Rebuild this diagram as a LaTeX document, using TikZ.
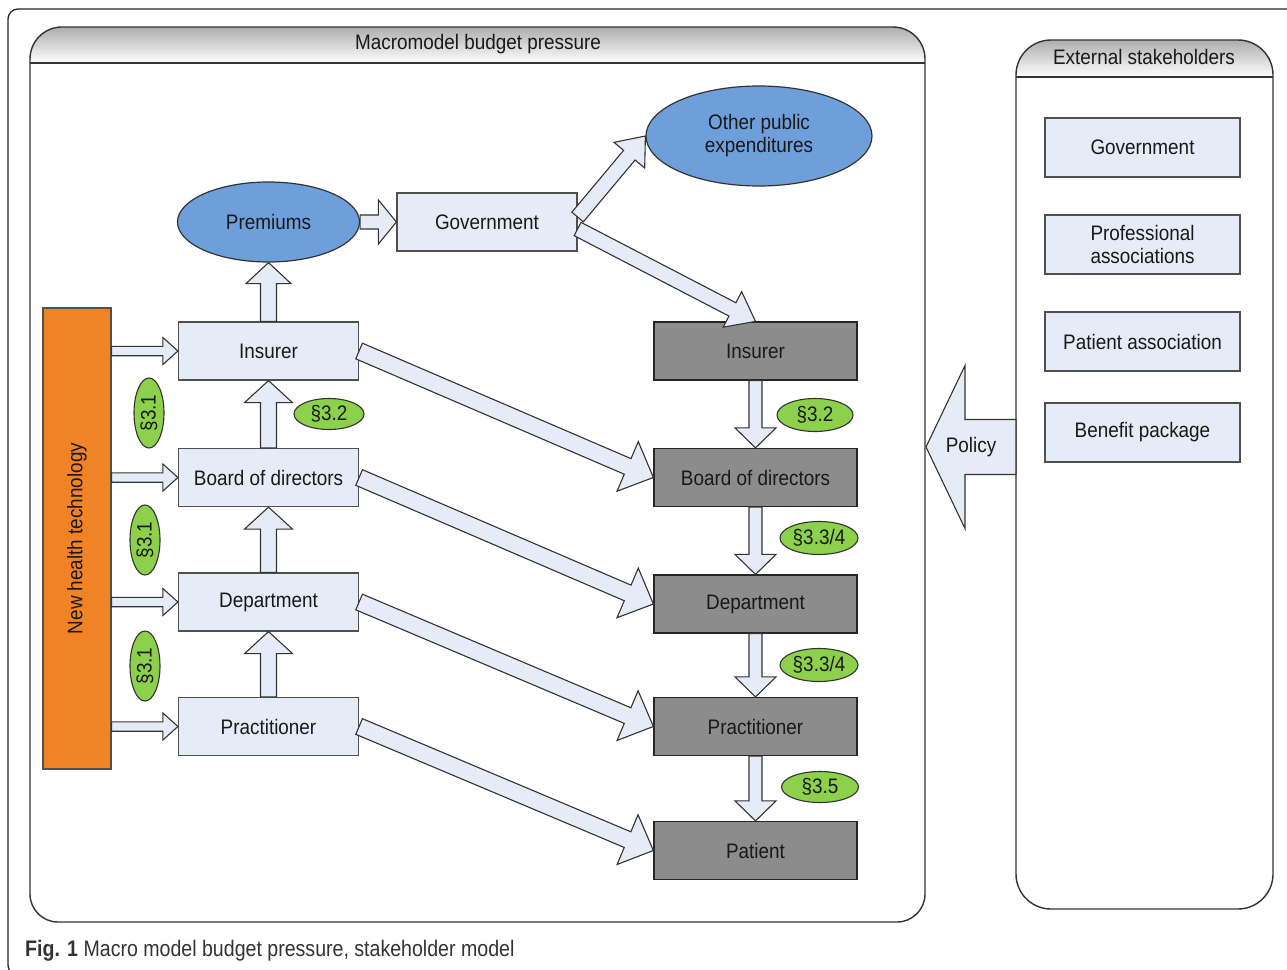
\documentclass[tikz,border=0pt]{standalone}
\usepackage{fontspec}
\usepackage{graphicx}
\setmainfont[FakeStretch=0.9]{Liberation Sans}
\newfontfamily\capfont[FakeStretch=0.87]{Liberation Sans}
\usetikzlibrary{shapes.geometric,calc}
\definecolor{boxfill}{RGB}{230,236,247}
\definecolor{darkfill}{RGB}{140,140,140}
\definecolor{bluefill}{RGB}{111,159,218}
\definecolor{greenfill}{RGB}{141,208,76}
\definecolor{orangefill}{RGB}{240,131,38}
\definecolor{edge}{RGB}{80,80,80}
\definecolor{txt}{RGB}{25,25,25}
\tikzset{
 lbl/.style={font=\fontsize{21}{23}\selectfont, text=txt},
 lightbox/.style={lbl, draw=edge, fill=boxfill, line width=1.2pt, minimum width=180pt, minimum height=58pt, inner sep=0pt, align=center},
 darkbox/.style={lbl, draw=black!85, fill=darkfill, line width=1.2pt, minimum width=203pt, minimum height=58pt, inner sep=0pt},
 extbox/.style={lightbox, minimum width=195pt, minimum height=59pt},
 blueell/.style={lbl, ellipse, draw=black!80, fill=bluefill, line width=1.2pt, inner sep=0pt, align=center},
 greenell/.style={lbl, ellipse, draw=black!80, fill=greenfill, line width=1.1pt, inner sep=0pt},
 arr/.style={draw=black!80, fill=boxfill, line width=1.1pt, line join=miter},
 frame/.style={draw=black!80, line width=1.4pt},
}
\newcommand\barrow[6][]{%
  \path let \p1=($(#3)-(#2)$) in \pgfextra{%
    \pgfmathsetmacro\tmpang{atan2(\y1,\x1)}%
    \pgfmathsetmacro\tmplen{veclen(\x1,\y1)}%
    \global\let\bAng\tmpang\global\let\bLen\tmplen};
  \draw[arr,#1,shift={(#2)},rotate=\bAng]
    (0pt,#4pt) -- ({\bLen pt-#6pt},#4pt) -- ({\bLen pt-#6pt},#5pt) -- (\bLen pt,0pt)
    -- ({\bLen pt-#6pt},-#5pt) -- ({\bLen pt-#6pt},-#4pt) -- (0pt,-#4pt) -- cycle;
}
\begin{document}
\begin{tikzpicture}[x=1pt,y=-1pt]
\useasboundingbox (0,0) rectangle (1287,969);
\clip (0,0) rectangle (1287,969);
\fill[white] (0,0) rectangle (1287,969);
% outer frame
\draw[draw=black!85, line width=1.3pt, rounded corners=10pt] (1310,9) -- (8,9) -- (8,975) -- (1310,975);
% macromodel container
\shadedraw[top color=black!32, bottom color=white, draw=black!80, line width=1.4pt, rounded corners=32pt] (30,63) -- (30,27) -- (925,27) -- (925,63);
\draw[frame, rounded corners=28pt] (30,63) -- (30,922) -- (925,922) -- (925,63);
\draw[frame] (30,63) -- (925,63);
\node[lbl] (macrotitle) at (478,44) {Macromodel budget pressure};
% external container
\shadedraw[top color=black!32, bottom color=white, draw=black!80, line width=1.4pt, rounded corners=35pt] (1016,77) -- (1016,40) -- (1273,40) -- (1273,77);
\draw[frame, rounded corners=35pt] (1016,77) -- (1016,909) -- (1273,909) -- (1273,77);
\draw[frame] (1016,77) -- (1273,77);
\node[lbl] (exttitle) at (1144,57) {External stakeholders};
% external boxes
\node[extbox] (eGov) at (1142.5,147.5) {Government};
\node[extbox] (eProf) at (1142.5,244.5) {Professional\\associations};
\node[extbox] (ePat) at (1142.5,341.5) {Patient association};
\node[extbox] (eBen) at (1142.5,432.5) {Benefit package};
% orange bar
\node[lbl, draw=edge, fill=orangefill, line width=1.2pt, minimum width=68pt, minimum height=461pt, inner sep=0pt] (nht) at (77,538.5) {\rotatebox{90}{New health technology}};
% left boxes
\node[lightbox] (insL) at (268.5,351) {Insurer};
\node[lightbox] (bodL) at (268.5,477.5) {Board of directors};
\node[lightbox] (depL) at (268.5,602) {Department};
\node[lightbox] (praL) at (268.5,726.5) {Practitioner};
% top
\node[blueell, minimum width=182pt, minimum height=80pt] (prem) at (268.5,222) {Premiums};
\node[lightbox] (gov) at (487,222) {Government};
\node[blueell, minimum width=226pt, minimum height=100pt] (other) at (759,136) {Other public\\expenditures};
% right boxes
\node[darkbox] (insR) at (755.5,351) {Insurer};
\node[darkbox] (bodR) at (755.5,477.5) {Board of directors};
\node[darkbox] (depR) at (755.5,604) {Department};
\node[darkbox] (praR) at (755.5,726.5) {Practitioner};
\node[darkbox] (patR) at (755.5,850.5) {Patient};
% green labels
\node[greenell, minimum width=70pt, minimum height=31pt] (g32L) at (329,414) {§3.2};
\node[greenell, minimum width=70pt, minimum height=30pt, rotate=90] (g31a) at (149,413) {§3.1};
\node[greenell, minimum width=70pt, minimum height=30pt, rotate=90] (g31b) at (145,540) {§3.1};
\node[greenell, minimum width=70pt, minimum height=30pt, rotate=90] (g31c) at (145,666) {§3.1};
\node[greenell, minimum width=76pt, minimum height=33pt] (g32R) at (815,415) {§3.2};
\node[greenell, minimum width=78pt, minimum height=33pt] (g334a) at (819,538) {§3.3/4};
\node[greenell, minimum width=78pt, minimum height=33pt] (g334b) at (819,665) {§3.3/4};
\node[greenell, minimum width=77pt, minimum height=31pt] (g35) at (820,787) {§3.5};
% connectors from the orange bar
\coordinate (h1) at (nht.east |- insL.west);
\coordinate (h2) at (nht.east |- bodL.west);
\coordinate (h3) at (nht.east |- depL.west);
\coordinate (h4) at (nht.east |- praL.west);
\barrow{h1}{insL.west}{4.7}{13.5}{15}
\barrow{h2}{bodL.west}{4.7}{13.5}{15}
\barrow{h3}{depL.west}{4.7}{13.5}{15}
\barrow{h4}{praL.west}{4.7}{13.5}{15}
% left vertical
\barrow{praL.north}{depL.south}{8}{24}{22}
\barrow{depL.north}{bodL.south}{8}{24}{22}
\barrow{bodL.north}{insL.south}{8}{24}{22}
\barrow{insL.north}{prem.south}{8}{22.5}{21}
% top
\barrow{prem.east}{gov.west}{7}{22}{18}
\coordinate (g1) at ($(gov.east)+(0,-5)$);
\coordinate (g2) at ($(gov.east)+(0,7)$);
\barrow{g1}{other.west}{7.5}{20}{25}
\barrow{g2}{insR.north}{7.5}{20}{26}
% diagonals
\barrow{insL.east}{bodR.west}{8.5}{27}{28}
\barrow{bodL.east}{depR.west}{8.5}{27}{28}
\barrow{depL.east}{praR.west}{8.5}{27}{28}
\barrow{praL.east}{patR.west}{8.5}{27}{28}
% right vertical
\barrow{insR.south}{bodR.north}{6.5}{20.5}{20}
\barrow{bodR.south}{depR.north}{6.5}{20.5}{20}
\barrow{depR.south}{praR.north}{6.5}{20.5}{20}
\barrow{praR.south}{patR.north}{6.5}{20.5}{20}
% policy
\coordinate (polS) at (1016,447);
\coordinate (polE) at (926,447);
\barrow{polS}{polE}{27.5}{81.5}{39}
\node[lbl] (policy) at (971,447) {Policy};
% caption
\node[anchor=west, font=\capfont\fontsize{22.5}{25}\selectfont, text=black!80, inner sep=0pt] (caption) at (25,951) {\textbf{Fig. 1} Macro model budget pressure, stakeholder model};
\end{tikzpicture}
\end{document}
